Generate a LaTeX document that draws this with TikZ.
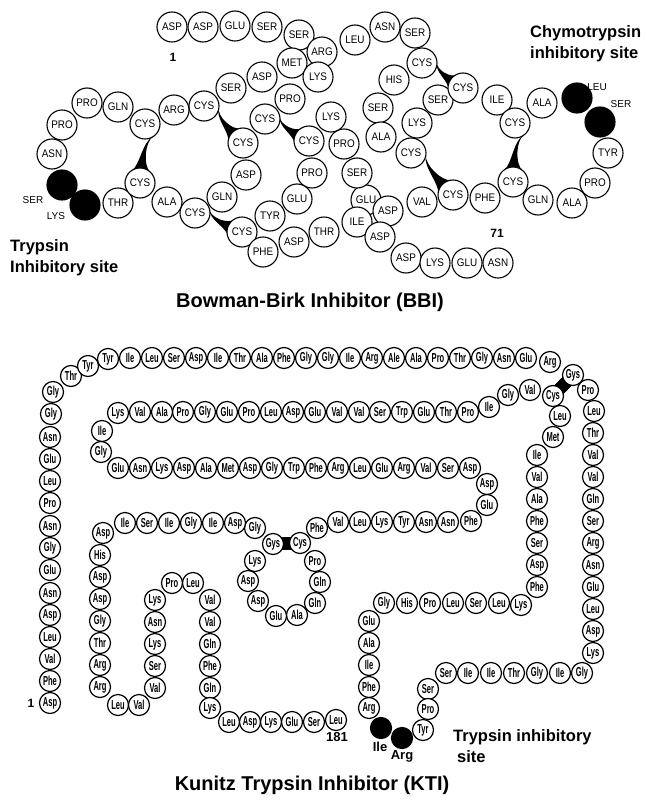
\documentclass[tikz,border=0pt]{standalone}
\usepackage{fontspec}
\setmainfont{Liberation Sans}
\newfontfamily\bbifont[FakeStretch=0.9]{Liberation Sans}
\newfontfamily\ktifont[FakeStretch=0.58]{Liberation Sans Bold}
\usetikzlibrary{calc,backgrounds}
\newcommand{\ssbond}[2]{% #1, #2 = the two cysteine nodes
  \fill ($(#1.center)!15pt!38:(#2.center)$)
    .. controls ($(#1.center)!0.3!(#2.center)!1.4pt!90:(#2.center)$) and ($(#1.center)!0.7!(#2.center)!1.4pt!90:(#2.center)$) .. ($(#2.center)!15pt!-38:(#1.center)$)
    -- ($(#2.center)!15pt!38:(#1.center)$)
    .. controls ($(#1.center)!0.7!(#2.center)!1.4pt!-90:(#2.center)$) and ($(#1.center)!0.3!(#2.center)!1.4pt!-90:(#2.center)$) .. cycle;}

\begin{document}
\begin{tikzpicture}[
  x=1pt, y=-1pt,
  bres/.style={circle, draw, line width=1.1pt, fill=white, minimum size=30pt, inner sep=0pt, font=\bbifont\fontsize{11}{11}\selectfont},
  bsite/.style={bres, fill=black},
  kres/.style={circle, draw, line width=1.2pt, fill=white, minimum size=21pt, inner sep=0pt, font=\ktifont\fontsize{13}{13}\selectfont},
  ksite/.style={kres, fill=black},
  kss/.style={line width=12pt},
  tag/.style={font=\fontsize{10}{10}\selectfont, inner sep=1pt},
  num/.style={font=\bfseries\fontsize{12}{12}\selectfont, inner sep=1pt},
  sitelbl/.style={font=\bfseries\fontsize{16.5}{21}\selectfont, align=left, inner sep=0pt},
  heading/.style={font=\bfseries\fontsize{20}{24}\selectfont},
]
  \useasboundingbox (0,0) rectangle (647,800);

  % ---------------- Bowman-Birk inhibitor
  \foreach \n/\x/\y/\t in {32/366/200/GLU, 1/172/27/ASP, 2/203/27/ASP, 3/235/26/GLU, 4/267/27/SER, 5/299/35/SER,
      6/322/52/ARG, 7/355/40/LEU, 8/385/27/ASN, 9/415/33/SER, 10/422/63/CYS, 11/394/80/HIS, 12/378/108/SER,
      13/381/137/ALA, 14/411/153/CYS, 15/417/123/LYS, 16/438/100/SER, 17/463/88/CYS, 18/497/100/ILE,
      19/515/123/CYS, 20/542/103/ALA, 23/608/153/TYR, 24/595/183/PRO, 25/572/203/ALA, 26/538/200/GLN,
      27/513/182/CYS, 28/485/198/PHE, 29/453/195/CYS, 30/422/202/VAL, 31/388/211/ASP, 33/357/173/SER,
      34/344/144/PRO, 35/331/117/LYS, 36/292/63/MET, 37/318/77/LYS, 38/290/99/PRO, 39/265/119/CYS,
      40/309/141/CYS, 41/312/173/PRO, 42/297/199/GLU, 43/270/216/TYR, 44/242/232/CYS, 45/263/252/PHE,
      46/294/242/ASP, 47/324/232/THR, 48/357/222/ILE, 49/380/237/ASP, 50/406/258/ASP, 51/435/263/LYS,
      52/467/263/GLU, 53/498/263/ASN, 54/195/213/CYS, 55/222/197/GLN, 56/246/175/ASP, 57/243/143/CYS,
      58/204/106/CYS, 59/231/88/SER, 60/262/77/ASP, 61/174/110/ARG, 62/145/124/CYS, 63/118/107/GLN,
      64/87/103/PRO, 65/62/125/PRO, 66/52/154/ASN, 69/118/203/THR, 70/140/183/CYS, 71/167/202/ALA}
    \node[bres] (b\n) at (\x,\y) {\t};
  \foreach \n/\x/\y in {21/577/98, 22/600/122, 67/62/185, 68/85/205}
    \node[bsite] (b\n) at (\x,\y) {};

  \node[tag] (tser) at (33,200) {SER};
  \node[tag] (tlys) at (56,216) {LYS};
  \node[tag] (cleu) at (597,87) {LEU};
  \node[tag] (cser) at (621,104) {SER};
  \node[num] (bfirst) at (173,57) {1};
  \node[num] (blast) at (497,233) {71};
  \node[sitelbl, anchor=west] (trysite) at (10,258) {Trypsin\\Inhibitory site};
  \node[sitelbl, anchor=west] (chysite) at (530,44) {Chymotrypsin\\inhibitory site};
  \node[heading] (bbititle) at (310,302) {Bowman-Birk Inhibitor (BBI)};

  % ---------------- Kunitz trypsin inhibitor
  \foreach \t/\x/\y [count=\i] in {Asp/50/703, Phe/50/681, Val/50/659, Leu/50/637, Asp/50/615, Asn/50/593,
      Glu/50/570, Gly/50/548, Asn/50/526, Pro/50/503, Leu/50/481, Glu/50/459, Asn/50/437, Gly/51/414,
      Gly/53/392, Thr/71/376, Tyr/88/366, Tyr/108/359, Ile/130/358, Leu/152/358, Ser/174/358, Asp/196/358,
      Ile/218/358, Thr/240/358, Ala/262/358, Phe/284/358, Gly/306/358, Gly/328/358, Ile/350/358,
      Arg/372/358, Ale/394/358, Ala/416/358, Pro/438/358, Thr/460/358, Gly/482/358, Asn/504/358,
      Glu/526/358, Arg/550/362, Gys/573/375, Pro/588/390, Leu/594/411, Thr/593/433, Val/593/455,
      Val/593/477, Gln/593/499, Ser/593/521, Arg/593/543, Asn/593/565, Glu/593/587, Leu/593/609,
      Asp/593/631, Lys/593/653, Gly/582/673, Ile/560/673, Gly/537/673, Thr/514/673, Ile/491/673,
      Ile/468/673, Ser/446/673, Ser/428/689, Pro/428/709, Tyr/423/730}
    \node[kres] (k\i) at (\x,\y) {\t};
  \node[ksite] (k63) at (402,738) {};
  \node[ksite] (k64) at (381,728) {};
  \foreach \t/\x/\y [count=\i from 65] in {Arg/369/708, Phe/369/687, Ile/369/665, Ala/369/643, Glu/369/621,
      Gly/384/603, His/407/603, Pro/430/603, Leu/453/603, Ser/476/603, Leu/499/603, Lys/521/605,
      Phe/537/587, Asp/537/565, Ser/537/543, Phe/537/521, Ala/537/499, Val/537/477, Ile/537/455,
      Met/553/437, Leu/560/416, Cys/553/396, Val/530/390, Gly/508/395, Ile/489/407, Pro/468/412,
      Thr/446/412, Glu/424/412, Trp/402/412, Ser/380/412, Val/359/412, Val/337/412, Glu/315/412,
      Asp/293/412, Leu/271/412, Pro/249/412, Glu/227/412, Gly/205/412, Pro/183/412, Ala/162/412,
      Val/140/412, Lys/118/413, Ile/102/431, Gly/101/452, Glu/118/468, Asn/140/468, Lys/162/468,
      Asp/184/468, Ala/206/468, Met/228/468, Asp/250/468, Gly/272/468, Trp/294/468, Phe/316/468,
      Arg/338/468, Leu/360/468, Glu/382/468, Arg/404/468, Val/426/468, Ser/448/468, Asp/470/468,
      Asp/487/484, Glu/487/505, Phe/471/521, Asn/448/522, Asn/426/522, Tyr/404/522, Lys/382/522,
      Leu/360/522, Val/338/522, Phe/317/528, Cys/300/543, Pro/315/561, Gln/320/582, Gln/315/603,
      Ala/297/615, Glu/276/616, Asp/258/601, Asp/248/581, Lys/255/561, Gys/273/544, Gly/255/528,
      Asp/235/523, Ile/213/523, Gly/191/523, Ile/169/523, Ser/147/523, Ile/125/523, Asp/103/533,
      His/100/555, Asp/100/577, Asp/100/599, Gly/100/621, Thr/100/643, Arg/100/665, Arg/100/687,
      Leu/118/705, Val/139/705, Val/155/688, Ser/155/666, Lys/155/644, Asn/155/622, Lys/155/600,
      Pro/172/583, Leu/193/583, Val/210/600, Val/210/622, Gln/210/644, Phe/210/666, Gln/210/688,
      Lys/210/708, Leu/229/722, Asp/250/722, Lys/271/722, Glu/292/722, Ser/314/722, Leu/336/720}
    \node[kres] (k\i) at (\x,\y) {\t};

  \node[num] (kfirst) at (31,703) {1};
  \node[num, font=\bfseries\fontsize{13}{13}\selectfont] (klast) at (337,737) {181};
  \node[num, font=\bfseries\fontsize{13}{13}\selectfont] (kile) at (380,747) {Ile};
  \node[num, font=\bfseries\fontsize{13}{13}\selectfont] (karg) at (402,756) {Arg};
  \node[sitelbl, anchor=west] (ktisite) at (453,746) {Trypsin inhibitory\\\hspace*{4pt}site};
  \node[heading] (krititle) at (312,785) {Kunitz Trypsin Inhibitor (KTI)};

  % ---------------- disulfide bridges
  \begin{scope}[on background layer]
    \foreach \a/\b in {62/70, 58/57, 39/40, 54/44, 10/17, 14/29, 19/27} \ssbond{b\a}{b\b}
    \foreach \a/\b in {39/86, 136/145} \draw[kss] (k\a.center) -- (k\b.center);
  \end{scope}
\end{tikzpicture}
\end{document}
